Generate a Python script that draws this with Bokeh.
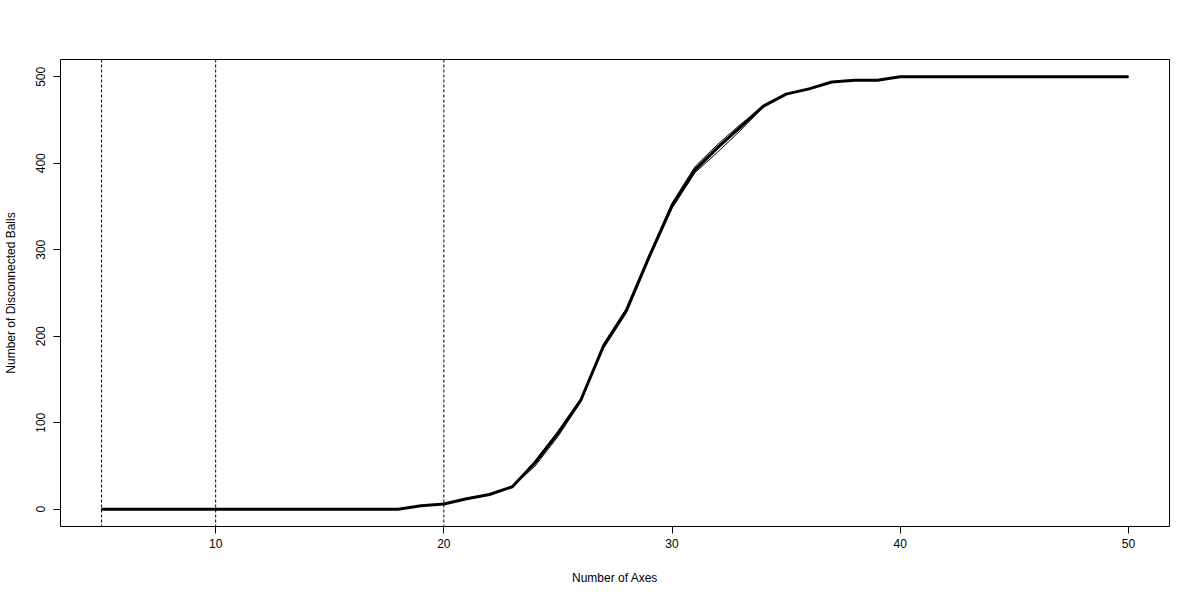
from bokeh.plotting import figure
from bokeh.models import Span, Range1d, FixedTicker
from bokeh.embed import file_html
from bokeh.resources import INLINE

# Number of axes (x) and number of disconnected balls (y)
axes = list(range(5, 51))
mean_balls = [0, 0, 0, 0, 0, 0, 0, 0, 0, 0, 0, 0, 0, 0,
              4, 6, 12, 17, 26, 54, 88, 126, 189, 230, 292, 351, 392, 418,
              442, 466, 480, 486, 494, 496, 496, 500,
              500, 500, 500, 500, 500, 500, 500, 500, 500, 500]
run_a = [0, 0, 0, 0, 0, 0, 0, 0, 0, 0, 0, 0, 0, 0,
         4, 6, 12, 17, 26, 50, 84, 124, 191, 232, 294, 354, 396, 422,
         445, 466, 480, 486, 494, 496, 496, 500,
         500, 500, 500, 500, 500, 500, 500, 500, 500, 500]
run_b = [0, 0, 0, 0, 0, 0, 0, 0, 0, 0, 0, 0, 0, 0,
         4, 6, 12, 17, 26, 56, 90, 128, 186, 227, 290, 348, 389, 413,
         438, 465, 480, 486, 494, 496, 496, 500,
         500, 500, 500, 500, 500, 500, 500, 500, 500, 500]
run_c = [0, 0, 0, 0, 0, 0, 0, 0, 0, 0, 0, 0, 0, 0,
         4, 6, 12, 17, 26, 52, 86, 125, 188, 229, 291, 350, 394, 420,
         440, 466, 480, 486, 494, 496, 496, 500,
         500, 500, 500, 500, 500, 500, 500, 500, 500, 500]
vlines = [5, 10, 20]
x_ticks = [10, 20, 30, 40, 50]
y_ticks = [0, 100, 200, 300, 400, 500]

FONT = "Liberation Sans"

p = figure(width=1192, height=592, output_backend="svg", toolbar_location=None,
           x_range=Range1d(3.2, 51.8), y_range=Range1d(-20, 520),
           min_border_left=59, min_border_right=23, min_border_top=59,
           min_border_bottom=66)
p.background_fill_color = "white"
p.border_fill_color = "white"
p.outline_line_color = "black"
p.outline_line_width = 1
p.outline_line_alpha = 1
p.xgrid.visible = False
p.ygrid.visible = False

for v in vlines:
    p.add_layout(Span(location=v, dimension="height", line_color="black",
                      line_width=1, line_dash="3 2"))

for run in (run_a, run_b, run_c):
    p.line(axes, run, line_color="black", line_width=1)
p.line(axes, mean_balls, line_color="black", line_width=3)

for ax in (p.xaxis[0], p.yaxis[0]):
    ax.axis_line_color = None
    ax.major_tick_out = 7
    ax.major_tick_in = 0
    ax.minor_tick_out = 0
    ax.minor_tick_in = 0
    ax.major_tick_line_color = "black"
    ax.major_label_text_font = FONT
    ax.major_label_text_font_size = "12px"
    ax.major_label_text_color = "black"
    ax.axis_label_text_font = FONT
    ax.axis_label_text_font_size = "12px"
    ax.axis_label_text_font_style = "normal"
    ax.axis_label_text_color = "black"

p.xaxis.ticker = FixedTicker(ticks=x_ticks)
p.yaxis.ticker = FixedTicker(ticks=y_ticks)
p.xaxis.axis_label = "Number of Axes"
p.yaxis.axis_label = "Number of Disconnected Balls"
p.xaxis.major_label_standoff = 5
p.xaxis.axis_label_standoff = 20
p.yaxis.major_label_orientation = "vertical"
p.yaxis.major_label_standoff = 8
p.yaxis.axis_label_standoff = 16

open("out.html", "w").write(file_html(p, INLINE))
